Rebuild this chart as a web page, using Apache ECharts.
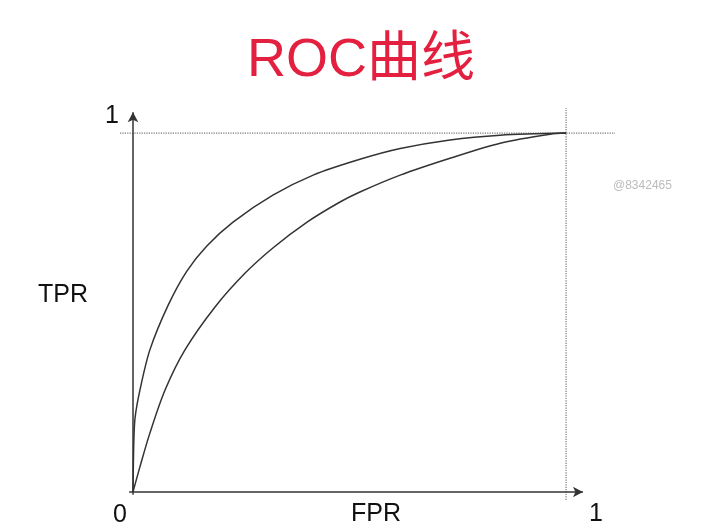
<!DOCTYPE html>
<html>
<head>
<meta charset="utf-8">
<script src="https://cdn.jsdelivr.net/npm/echarts@6/dist/echarts.min.js"></script>
<style>html,body{margin:0;padding:0;background:#fff;}#c{width:702px;height:528px;}</style>
</head>
<body>
<div id="c"></div>
<script>
// ROC curves: [FPR, TPR]
const upperCurve = [
  [0, 0], [0.002, 0.145], [0.005, 0.209], [0.016, 0.284], [0.039, 0.396],
  [0.081, 0.520], [0.124, 0.615], [0.170, 0.685], [0.231, 0.752], [0.323, 0.827],
  [0.416, 0.883], [0.524, 0.927], [0.617, 0.957], [0.732, 0.981], [0.848, 0.994], [1, 1]
];
const lowerCurve = [
  [0, 0], [0.016, 0.070], [0.039, 0.164], [0.074, 0.284], [0.120, 0.396],
  [0.189, 0.515], [0.259, 0.610], [0.323, 0.680], [0.402, 0.752], [0.478, 0.808],
  [0.524, 0.836], [0.617, 0.883], [0.732, 0.930], [0.848, 0.972], [0.963, 0.997], [1, 1]
];
// dotted guide lines at TPR = 1 and FPR = 1
const guideH = [[-0.03, 1], [1.113, 1]];
const guideV = [[1, -0.022], [1, 1.07]];
// axis lines (with arrow at the far end)
const xAxisLine = [[-0.009, 0], [1.039, 0]];
const yAxisLine = [[0, -0.008], [0, 1.058]];
const titleText = 'ROC曲线';
const xName = 'FPR';
const yName = 'TPR';
const originLabel = '0';
const xEndLabel = '1';
const yEndLabel = '1';
const watermark = '@8342465';

const chart = echarts.init(document.getElementById('c'), null, {renderer: 'canvas'});
const font = '"Liberation Sans", Arial, "Noto Sans CJK SC", sans-serif';
const lbl = {fontSize: 25, fill: '#111', fontFamily: font};
const axisCommon = {
  type: 'value',
  splitLine: {show: false},
  axisTick: {show: false},
  axisLabel: {show: false},
  axisLine: {show: false}
};
const curve = (d) => ({
  type: 'line', data: d, showSymbol: false, smooth: 0.3, silent: true,
  lineStyle: {color: '#333', width: 1.5}
});
const guide = (d) => ({
  type: 'line', data: d, showSymbol: false, silent: true,
  lineStyle: {type: 'dotted', color: '#777', width: 1.2}
});
chart.setOption({
  animation: false,
  backgroundColor: '#fff',
  title: {
    text: titleText, left: 242, top: 29,
    textStyle: {color: '#e3203f', fontSize: 54, fontWeight: 'normal', fontFamily: font}
  },
  // grid spans the whole drawn area (dotted guides included)
  grid: {left: 120, top: 108, width: 495, height: 392},
  xAxis: Object.assign({}, axisCommon, {min: -0.03, max: 1.113}),
  yAxis: Object.assign({}, axisCommon, {min: -0.0223, max: 1.07}),
  series: [
    guide(guideH), guide(guideV),
    {
      type: 'line', data: [], silent: true,
      markLine: {
        silent: true, animation: false, symbol: ['none', 'arrow'], symbolSize: [8, 10],
        label: {show: false},
        lineStyle: {type: 'solid', color: '#333', width: 1.5},
        data: [
          [{coord: xAxisLine[0]}, {coord: xAxisLine[1]}],
          [{coord: yAxisLine[0]}, {coord: yAxisLine[1]}]
        ]
      }
    },
    curve(upperCurve), curve(lowerCurve)
  ],
  graphic: [
    {type: 'text', left: 38, top: 283, style: Object.assign({text: yName}, lbl)},
    {type: 'text', left: 351, top: 502, style: Object.assign({text: xName}, lbl)},
    {type: 'text', left: 113, top: 503, style: Object.assign({text: originLabel}, lbl)},
    {type: 'text', left: 589, top: 502, style: Object.assign({text: xEndLabel}, lbl)},
    {type: 'text', left: 105, top: 104, style: Object.assign({text: yEndLabel}, lbl)},
    {type: 'text', left: 613, top: 180, style: {text: watermark, fontSize: 12, fill: '#bbb', fontFamily: font}}
  ]
});
</script>
</body>
</html>
